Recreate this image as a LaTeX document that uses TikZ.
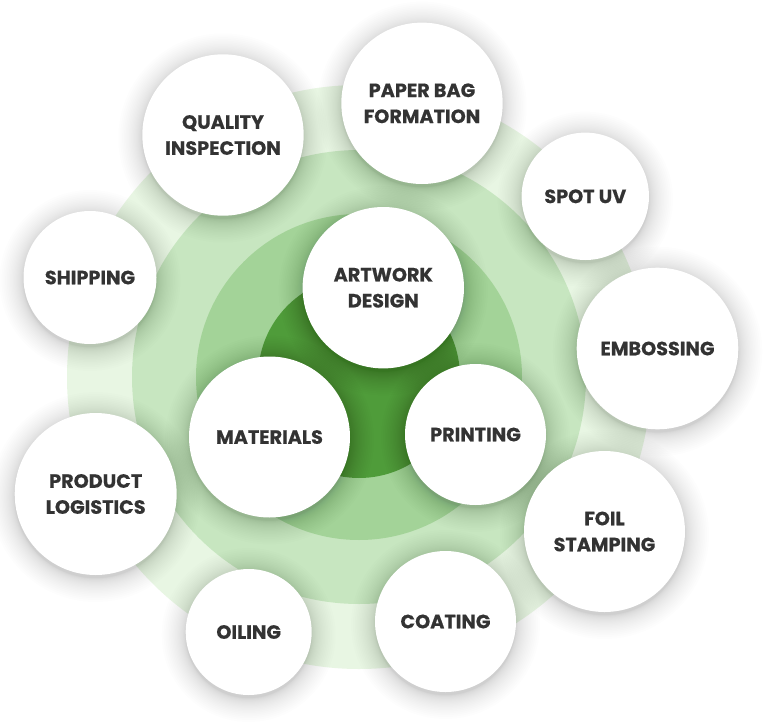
\documentclass[tikz,border=0pt]{standalone}
\usepackage{fontspec}
\setmainfont{Poppins}[BoldFeatures={FakeBold=0.5}]
\definecolor{ringA}{HTML}{E8F6E3}
\definecolor{ringB}{HTML}{C7E6C0}
\definecolor{ringC}{HTML}{A3D398}
\definecolor{ringD}{HTML}{4F9C3A}
\definecolor{txt}{HTML}{333333}
\tikzset{
  bub/.style={circle, fill=white, inner sep=0pt, align=center, text=txt,
    font=\fontsize{19.2}{26}\selectfont\bfseries},
}
\begin{document}
\begin{tikzpicture}[x=1pt,y=-1pt]
\useasboundingbox (0,0) rectangle (764,726);
\fill[white] (0,0) rectangle (764,726);
% concentric rings
\fill[ringA] (359,377) circle[radius=292];
\fill[ringB] (359,377) circle[radius=227];
\fill[ringC] (359,377) circle[radius=163];
\fill[ringD] (359,377) circle[radius=101];
% soft shadows
\foreach \cx/\cy/\r in {90/277.5/66.5, 223/135/80.7, 422/103.3/80.7, 585.3/196.3/63.7,
  657.5/348.5/80.8, 604.5/531.5/80.5, 445.5/621.5/70.5, 248.7/632/63,
  95.7/494/81, 269.5/437/80.5, 475.5/434.5/70.5, 383.3/287.7/80.7}{
  \foreach \i in {1,...,24}{
    \fill[black,opacity=0.006] (\cx,\cy+3) circle[radius={\r+\i*\i/24}];
  }
}
% bubbles
\node[bub, minimum size=133] (shipping) at (90,277.5) {SHIPPING};
\node[bub, minimum size=161.4] (quality) at (223,135) {QUALITY\\INSPECTION};
\node[bub, minimum size=161.4] (paperbag) at (422,103.3) {PAPER BAG\\FORMATION};
\node[bub, minimum size=127.4] (spotuv) at (585.3,196.3) {SPOT UV};
\node[bub, minimum size=161.6] (embossing) at (657.5,348.5) {EMBOSSING};
\node[bub, minimum size=161] (foil) at (604.5,531.5) {FOIL\\STAMPING};
\node[bub, minimum size=141] (coating) at (445.5,621.5) {COATING};
\node[bub, minimum size=126] (oiling) at (248.7,632) {OILING};
\node[bub, minimum size=162] (logistics) at (95.7,494) {PRODUCT\\LOGISTICS};
\node[bub, minimum size=161] (materials) at (269.5,437) {MATERIALS};
\node[bub, minimum size=141] (printing) at (475.5,434.5) {PRINTING};
\node[bub, minimum size=161.4] (artwork) at (383.3,287.7) {ARTWORK\\DESIGN};
\end{tikzpicture}
\end{document}
